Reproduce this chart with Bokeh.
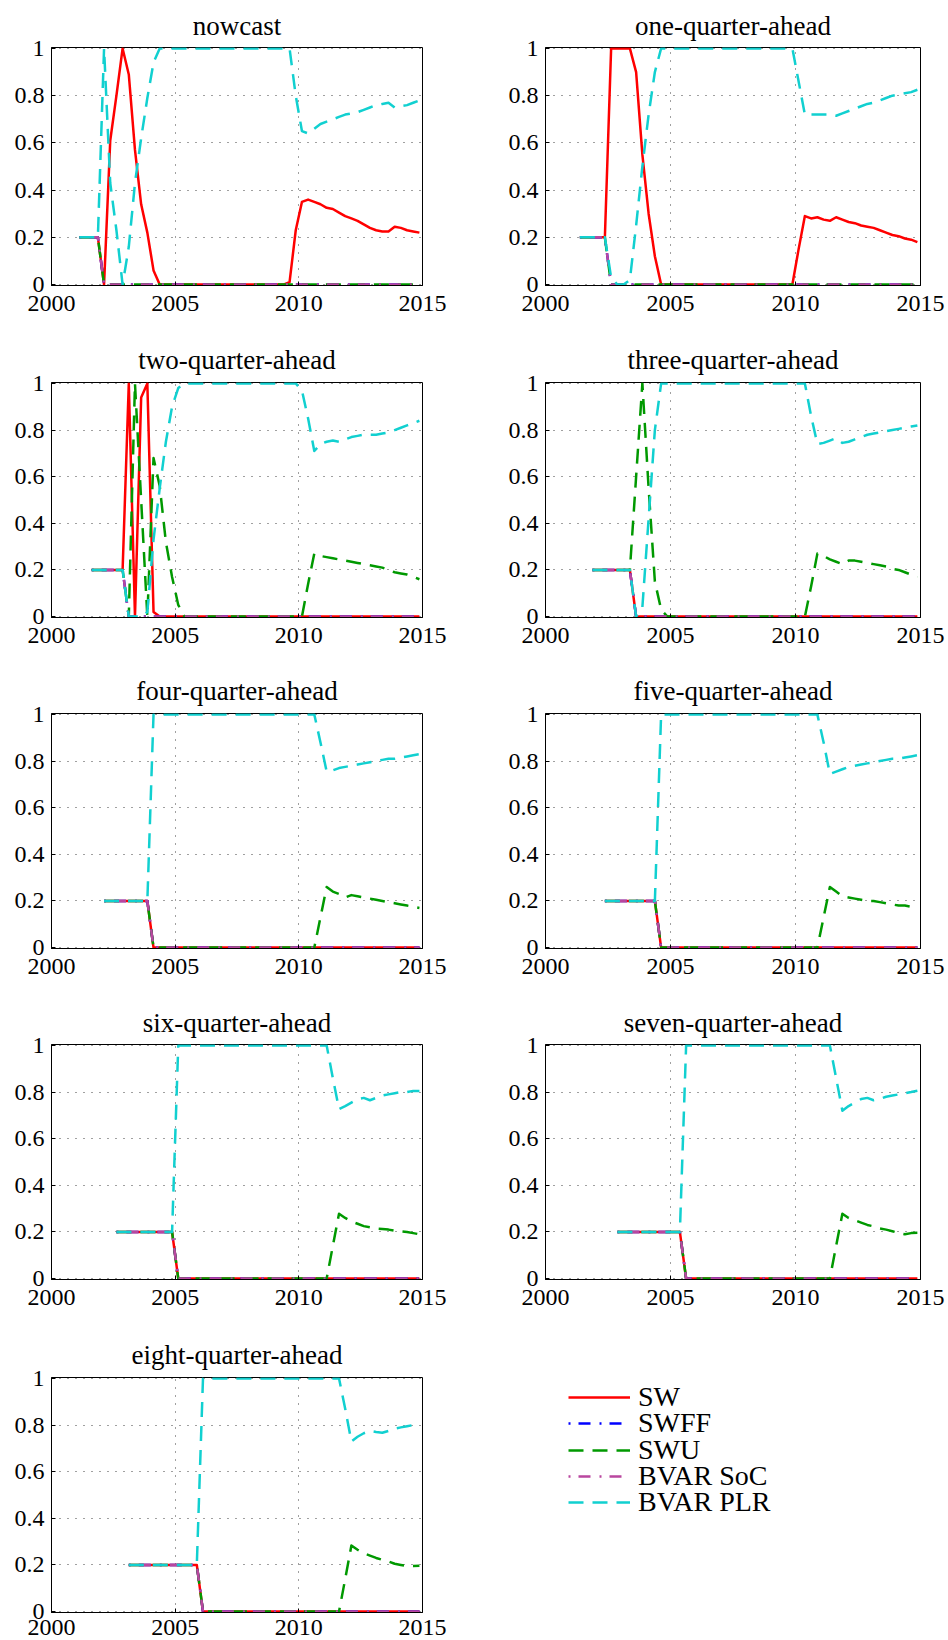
from bokeh.plotting import figure
from bokeh.layouts import gridplot
from bokeh.models import Range1d, FixedTicker, Legend, LegendItem, ColumnDataSource
from bokeh.embed import file_html
from bokeh.resources import INLINE

FONT = "Liberation Serif"

# ---------------- data ----------------
panel_titles = ["nowcast", "one-quarter-ahead", "two-quarter-ahead", "three-quarter-ahead",
                "four-quarter-ahead", "five-quarter-ahead", "six-quarter-ahead",
                "seven-quarter-ahead", "eight-quarter-ahead"]
panel_starts = ["2001Q1", "2001Q2", "2001Q3", "2001Q4", "2002Q1", "2002Q2", "2002Q3", "2002Q4", "2003Q1"]
last_quarter = "2014Q4"
series_names = ["SW", "SWFF", "SWU", "BVAR SoC", "BVAR PLR"]
x_ticks = [2000, 2005, 2010, 2015]
y_ticks = [0, 0.2, 0.4, 0.6, 0.8, 1]
y_tick_labels = ["0", "0.2", "0.4", "0.6", "0.8", "1"]

# nowcast (2001Q1 - 2014Q4, 56 quarters)
nowcast_sw = [0.2, 0.2, 0.2, 0.2, 0, 0.61, 0.8, 1.0, 0.89, 0.57, 0.34, 0.22, 0.06,
              0, 0, 0, 0, 0, 0, 0, 0, 0, 0,
              0, 0, 0, 0, 0, 0, 0, 0, 0, 0,
              0,
              0.01, 0.23, 0.35, 0.36, 0.35, 0.34, 0.325, 0.32, 0.305, 0.29,
              0.28, 0.27, 0.255, 0.24, 0.23, 0.225, 0.225, 0.245, 0.24, 0.23,
              0.225, 0.22]
nowcast_swff = [0.2, 0.2, 0.2, 0.2,
                0, 0, 0, 0, 0, 0, 0, 0, 0, 0,
                0, 0, 0, 0, 0, 0, 0, 0, 0, 0,
                0, 0, 0, 0, 0, 0, 0, 0, 0, 0,
                0, 0, 0, 0, 0, 0, 0, 0, 0, 0,
                0, 0, 0, 0, 0, 0, 0, 0, 0, 0,
                0, 0]
nowcast_swu = [0.2, 0.2, 0.2, 0.2,
               0, 0, 0, 0, 0, 0, 0, 0, 0, 0,
               0, 0, 0, 0, 0, 0, 0, 0, 0, 0,
               0, 0, 0, 0, 0, 0, 0, 0, 0, 0,
               0, 0, 0, 0, 0, 0, 0, 0, 0, 0,
               0, 0, 0, 0, 0, 0, 0, 0, 0, 0,
               0, 0]
nowcast_soc = [0.2, 0.2, 0.2, 0.2,
               0, 0, 0, 0, 0, 0, 0, 0, 0, 0,
               0, 0, 0, 0, 0, 0, 0, 0, 0, 0,
               0, 0, 0, 0, 0, 0, 0, 0, 0, 0,
               0, 0, 0, 0, 0, 0, 0, 0, 0, 0,
               0, 0, 0, 0, 0, 0, 0, 0, 0, 0,
               0, 0]
nowcast_plr = [0.2, 0.2, 0.2, 0.2, 1.0, 0.43, 0.23, 0, 0.16, 0.43, 0.62, 0.79, 0.94,
               1, 1, 1, 1, 1, 1, 1, 1, 1, 1,
               1, 1, 1, 1, 1, 1, 1, 1, 1, 1,
               1, 1,
               0.8, 0.65, 0.64, 0.66, 0.68, 0.69, 0.70, 0.71, 0.72, 0.725,
               0.73, 0.74, 0.75, 0.76, 0.765, 0.77, 0.75, 0.755, 0.76, 0.77,
               0.78]

# one-quarter-ahead (2001Q2 - 2014Q4, 55 quarters)
one_sw = [0.2, 0.2, 0.2, 0.2, 0.2, 1.0, 1.0, 1.0, 1.0, 0.9, 0.55, 0.3, 0.12,
          0, 0, 0, 0, 0, 0, 0, 0, 0, 0,
          0, 0, 0, 0, 0, 0, 0, 0, 0, 0,
          0, 0,
          0.15, 0.29, 0.28, 0.285, 0.275, 0.27, 0.285, 0.275, 0.265, 0.26,
          0.25, 0.245, 0.24, 0.23, 0.22, 0.21, 0.205, 0.195, 0.19, 0.18]
one_swff = [0.2, 0.2, 0.2, 0.2, 0.2,
            0, 0, 0, 0, 0, 0, 0, 0, 0, 0,
            0, 0, 0, 0, 0, 0, 0, 0, 0, 0,
            0, 0, 0, 0, 0, 0, 0, 0, 0, 0,
            0, 0, 0, 0, 0, 0, 0, 0, 0, 0,
            0, 0, 0, 0, 0, 0, 0, 0, 0, 0]
one_swu = [0.2, 0.2, 0.2, 0.2, 0.2,
           0, 0, 0, 0, 0, 0, 0, 0, 0, 0,
           0, 0, 0, 0, 0, 0, 0, 0, 0, 0,
           0, 0, 0, 0, 0, 0, 0, 0, 0, 0,
           0, 0, 0, 0, 0, 0, 0, 0, 0, 0,
           0, 0, 0, 0, 0, 0, 0, 0, 0, 0]
one_soc = [0.2, 0.2, 0.2, 0.2, 0.2,
           0, 0, 0, 0, 0, 0, 0, 0, 0, 0,
           0, 0, 0, 0, 0, 0, 0, 0, 0, 0,
           0, 0, 0, 0, 0, 0, 0, 0, 0, 0,
           0, 0, 0, 0, 0, 0, 0, 0, 0, 0,
           0, 0, 0, 0, 0, 0, 0, 0, 0, 0]
one_plr = [0.2, 0.2, 0.2, 0.2, 0.2, 0.03, 0, 0, 0.02, 0.25, 0.5, 0.72, 0.9,
           1, 1, 1, 1, 1, 1, 1, 1, 1, 1,
           1, 1, 1, 1, 1, 1, 1, 1, 1, 1,
           1, 1,
           0.86, 0.72, 0.72, 0.72, 0.72, 0.72, 0.715, 0.725, 0.735, 0.745,
           0.755, 0.765, 0.77, 0.78, 0.79, 0.80, 0.805, 0.81, 0.815, 0.825]

# two-quarter-ahead (2001Q3 - 2014Q4, 54 quarters)
two_sw = [0.2, 0.2, 0.2, 0.2, 0.2, 0.2, 1.0, 0, 0.94, 1.0, 0.02,
          0, 0, 0, 0, 0, 0, 0, 0, 0, 0,
          0, 0, 0, 0, 0, 0, 0, 0, 0, 0,
          0, 0, 0, 0, 0, 0, 0, 0, 0, 0,
          0, 0, 0, 0, 0, 0, 0, 0, 0, 0,
          0, 0, 0]
two_swff = [0.2, 0.2, 0.2, 0.2, 0.2, 0.2,
            0, 0, 0, 0, 0, 0, 0, 0, 0, 0,
            0, 0, 0, 0, 0, 0, 0, 0, 0, 0,
            0, 0, 0, 0, 0, 0, 0, 0, 0, 0,
            0, 0, 0, 0, 0, 0, 0, 0, 0, 0,
            0, 0, 0, 0, 0, 0, 0, 0]
two_swu = [0.2, 0.2, 0.2, 0.2, 0.2, 0.2, 0, 1.0, 0.5, 0, 0.68, 0.56, 0.32, 0.17, 0.05,
           0, 0, 0, 0, 0, 0, 0, 0, 0, 0,
           0, 0, 0, 0, 0, 0, 0, 0, 0, 0,
           0.14, 0.27, 0.26, 0.255, 0.25, 0.245, 0.24, 0.235, 0.23, 0.225,
           0.22, 0.215, 0.21, 0.2, 0.19, 0.185, 0.18, 0.17, 0.16]
two_soc = [0.2, 0.2, 0.2, 0.2, 0.2, 0.2,
           0, 0, 0, 0, 0, 0, 0, 0, 0, 0,
           0, 0, 0, 0, 0, 0, 0, 0, 0, 0,
           0, 0, 0, 0, 0, 0, 0, 0, 0, 0,
           0, 0, 0, 0, 0, 0, 0, 0, 0, 0,
           0, 0, 0, 0, 0, 0, 0, 0]
two_plr = [0.2, 0.2, 0.2, 0.2, 0.2, 0.2, 0, 0, 0, 0.02, 0.33, 0.55, 0.75, 0.9, 0.98, 1.0,
           1, 1, 1, 1, 1, 1, 1, 1, 1, 1,
           1, 1, 1, 1, 1, 1, 1, 1,
           0.97, 0.85, 0.71, 0.74, 0.75, 0.755, 0.75, 0.76, 0.77, 0.775,
           0.78, 0.78, 0.78, 0.785, 0.79, 0.80, 0.81, 0.82, 0.83, 0.84]

# three-quarter-ahead (2001Q4 - 2014Q4, 53 quarters)
three_sw = [0.2, 0.2, 0.2, 0.2, 0.2, 0.2, 0.2,
            0, 0, 0, 0, 0, 0, 0, 0, 0, 0,
            0, 0, 0, 0, 0, 0, 0, 0, 0, 0,
            0, 0, 0, 0, 0, 0, 0, 0, 0, 0,
            0, 0, 0, 0, 0, 0, 0, 0, 0, 0,
            0, 0, 0, 0, 0, 0]
three_swff = [0.2, 0.2, 0.2, 0.2, 0.2, 0.2, 0.2,
              0, 0, 0, 0, 0, 0, 0, 0, 0, 0,
              0, 0, 0, 0, 0, 0, 0, 0, 0, 0,
              0, 0, 0, 0, 0, 0, 0, 0, 0, 0,
              0, 0, 0, 0, 0, 0, 0, 0, 0, 0,
              0, 0, 0, 0, 0, 0]
three_swu = [0.2, 0.2, 0.2, 0.2, 0.2, 0.2, 0.2, 0.6, 1.0, 0.55, 0.15, 0.03,
             0, 0, 0, 0, 0, 0, 0, 0, 0, 0,
             0, 0, 0, 0, 0, 0, 0, 0, 0, 0,
             0, 0, 0,
             0.13, 0.27, 0.26, 0.245, 0.235, 0.225, 0.24, 0.24, 0.235, 0.23,
             0.225, 0.22, 0.215, 0.205, 0.2, 0.19, 0.18, 0.17]
three_soc = [0.2, 0.2, 0.2, 0.2, 0.2, 0.2, 0.2,
             0, 0, 0, 0, 0, 0, 0, 0, 0, 0,
             0, 0, 0, 0, 0, 0, 0, 0, 0, 0,
             0, 0, 0, 0, 0, 0, 0, 0, 0, 0,
             0, 0, 0, 0, 0, 0, 0, 0, 0, 0,
             0, 0, 0, 0, 0, 0]
three_plr = [0.2, 0.2, 0.2, 0.2, 0.2, 0.2, 0.2, 0, 0.04, 0.42, 0.8,
             1, 1, 1, 1, 1, 1, 1, 1, 1, 1,
             1, 1, 1, 1, 1, 1, 1, 1, 1, 1,
             1, 1, 1, 1,
             0.86, 0.74, 0.745, 0.755, 0.765, 0.745, 0.75, 0.76, 0.77, 0.78,
             0.785, 0.79, 0.795, 0.80, 0.805, 0.81, 0.815, 0.82]

# four-quarter-ahead (2002Q1 - 2014Q4, 52 quarters)
four_sw = [0.2, 0.2, 0.2, 0.2, 0.2, 0.2, 0.2, 0.2,
           0, 0, 0, 0, 0, 0, 0, 0, 0, 0,
           0, 0, 0, 0, 0, 0, 0, 0, 0, 0,
           0, 0, 0, 0, 0, 0, 0, 0, 0, 0,
           0, 0, 0, 0, 0, 0, 0, 0, 0, 0,
           0, 0, 0, 0]
four_swff = [0.2, 0.2, 0.2, 0.2, 0.2, 0.2, 0.2, 0.2,
             0, 0, 0, 0, 0, 0, 0, 0, 0, 0,
             0, 0, 0, 0, 0, 0, 0, 0, 0, 0,
             0, 0, 0, 0, 0, 0, 0, 0, 0, 0,
             0, 0, 0, 0, 0, 0, 0, 0, 0, 0,
             0, 0, 0, 0]
four_swu = [0.2, 0.2, 0.2, 0.2, 0.2, 0.2, 0.2, 0.2,
            0, 0, 0, 0, 0, 0, 0, 0, 0, 0,
            0, 0, 0, 0, 0, 0, 0, 0, 0, 0,
            0, 0, 0, 0, 0, 0, 0,
            0.13, 0.26, 0.24, 0.23, 0.215, 0.225, 0.22, 0.215, 0.21, 0.205,
            0.2, 0.195, 0.19, 0.185, 0.18, 0.175, 0.17]
four_soc = [0.2, 0.2, 0.2, 0.2, 0.2, 0.2, 0.2, 0.2,
            0, 0, 0, 0, 0, 0, 0, 0, 0, 0,
            0, 0, 0, 0, 0, 0, 0, 0, 0, 0,
            0, 0, 0, 0, 0, 0, 0, 0, 0, 0,
            0, 0, 0, 0, 0, 0, 0, 0, 0, 0,
            0, 0, 0, 0]
four_plr = [0.2, 0.2, 0.2, 0.2, 0.2, 0.2, 0.2, 0.2,
            1, 1, 1, 1, 1, 1, 1, 1, 1, 1,
            1, 1, 1, 1, 1, 1, 1, 1, 1, 1,
            1, 1, 1, 1, 1, 1, 1,
            0.88, 0.755, 0.76, 0.77, 0.775, 0.78, 0.785, 0.79, 0.795, 0.80,
            0.805, 0.81, 0.81, 0.815, 0.82, 0.825, 0.83]

# five-quarter-ahead (2002Q2 - 2014Q4, 51 quarters)
five_sw = [0.2, 0.2, 0.2, 0.2, 0.2, 0.2, 0.2, 0.2, 0.2,
           0, 0, 0, 0, 0, 0, 0, 0, 0, 0,
           0, 0, 0, 0, 0, 0, 0, 0, 0, 0,
           0, 0, 0, 0, 0, 0, 0, 0, 0, 0,
           0, 0, 0, 0, 0, 0, 0, 0, 0, 0,
           0, 0]
five_swff = [0.2, 0.2, 0.2, 0.2, 0.2, 0.2, 0.2, 0.2, 0.2,
             0, 0, 0, 0, 0, 0, 0, 0, 0, 0,
             0, 0, 0, 0, 0, 0, 0, 0, 0, 0,
             0, 0, 0, 0, 0, 0, 0, 0, 0, 0,
             0, 0, 0, 0, 0, 0, 0, 0, 0, 0,
             0, 0]
five_swu = [0.2, 0.2, 0.2, 0.2, 0.2, 0.2, 0.2, 0.2, 0.2,
            0, 0, 0, 0, 0, 0, 0, 0, 0, 0,
            0, 0, 0, 0, 0, 0, 0, 0, 0, 0,
            0, 0, 0, 0, 0, 0,
            0.13, 0.26, 0.24, 0.22, 0.215, 0.21, 0.205, 0.2, 0.2, 0.195,
            0.19, 0.185, 0.18, 0.18, 0.175, 0.175]
five_soc = [0.2, 0.2, 0.2, 0.2, 0.2, 0.2, 0.2, 0.2, 0.2,
            0, 0, 0, 0, 0, 0, 0, 0, 0, 0,
            0, 0, 0, 0, 0, 0, 0, 0, 0, 0,
            0, 0, 0, 0, 0, 0, 0, 0, 0, 0,
            0, 0, 0, 0, 0, 0, 0, 0, 0, 0,
            0, 0]
five_plr = [0.2, 0.2, 0.2, 0.2, 0.2, 0.2, 0.2, 0.2, 0.2,
            1, 1, 1, 1, 1, 1, 1, 1, 1, 1,
            1, 1, 1, 1, 1, 1, 1, 1, 1, 1,
            1, 1, 1, 1, 1, 1,
            0.88, 0.745, 0.755, 0.765, 0.775, 0.78, 0.785, 0.79, 0.795, 0.80,
            0.805, 0.81, 0.81, 0.815, 0.82, 0.825]

# six-quarter-ahead (2002Q3 - 2014Q4, 50 quarters)
six_sw = [0.2, 0.2, 0.2, 0.2, 0.2, 0.2, 0.2, 0.2, 0.2, 0.2,
          0, 0, 0, 0, 0, 0, 0, 0, 0, 0,
          0, 0, 0, 0, 0, 0, 0, 0, 0, 0,
          0, 0, 0, 0, 0, 0, 0, 0, 0, 0,
          0, 0, 0, 0, 0, 0, 0, 0, 0, 0]
six_swff = [0.2, 0.2, 0.2, 0.2, 0.2, 0.2, 0.2, 0.2, 0.2, 0.2,
            0, 0, 0, 0, 0, 0, 0, 0, 0, 0,
            0, 0, 0, 0, 0, 0, 0, 0, 0, 0,
            0, 0, 0, 0, 0, 0, 0, 0, 0, 0,
            0, 0, 0, 0, 0, 0, 0, 0, 0, 0]
six_swu = [0.2, 0.2, 0.2, 0.2, 0.2, 0.2, 0.2, 0.2, 0.2, 0.2,
           0, 0, 0, 0, 0, 0, 0, 0, 0, 0,
           0, 0, 0, 0, 0, 0, 0, 0, 0, 0,
           0, 0, 0, 0, 0,
           0.14, 0.278, 0.26, 0.245, 0.235, 0.225, 0.22, 0.215, 0.213, 0.21,
           0.205, 0.203, 0.2, 0.195, 0.19]
six_soc = [0.2, 0.2, 0.2, 0.2, 0.2, 0.2, 0.2, 0.2, 0.2, 0.2,
           0, 0, 0, 0, 0, 0, 0, 0, 0, 0,
           0, 0, 0, 0, 0, 0, 0, 0, 0, 0,
           0, 0, 0, 0, 0, 0, 0, 0, 0, 0,
           0, 0, 0, 0, 0, 0, 0, 0, 0, 0]
six_plr = [0.2, 0.2, 0.2, 0.2, 0.2, 0.2, 0.2, 0.2, 0.2, 0.2,
           1, 1, 1, 1, 1, 1, 1, 1, 1, 1,
           1, 1, 1, 1, 1, 1, 1, 1, 1, 1,
           1, 1, 1, 1, 1,
           0.86, 0.727, 0.74, 0.755, 0.77, 0.775, 0.765, 0.775, 0.785, 0.79,
           0.795, 0.80, 0.80, 0.805, 0.805]

# seven-quarter-ahead (2002Q4 - 2014Q4, 49 quarters)
seven_sw = [0.2, 0.2, 0.2, 0.2, 0.2, 0.2, 0.2, 0.2, 0.2, 0.2, 0.2,
            0, 0, 0, 0, 0, 0, 0, 0, 0, 0,
            0, 0, 0, 0, 0, 0, 0, 0, 0, 0,
            0, 0, 0, 0, 0, 0, 0, 0, 0, 0,
            0, 0, 0, 0, 0, 0, 0, 0]
seven_swff = [0.2, 0.2, 0.2, 0.2, 0.2, 0.2, 0.2, 0.2, 0.2, 0.2, 0.2,
              0, 0, 0, 0, 0, 0, 0, 0, 0, 0,
              0, 0, 0, 0, 0, 0, 0, 0, 0, 0,
              0, 0, 0, 0, 0, 0, 0, 0, 0, 0,
              0, 0, 0, 0, 0, 0, 0, 0]
seven_swu = [0.2, 0.2, 0.2, 0.2, 0.2, 0.2, 0.2, 0.2, 0.2, 0.2, 0.2,
             0, 0, 0, 0, 0, 0, 0, 0, 0, 0,
             0, 0, 0, 0, 0, 0, 0, 0, 0, 0,
             0, 0, 0, 0,
             0.14, 0.278, 0.26, 0.25, 0.24, 0.23, 0.224, 0.215, 0.21, 0.203,
             0.195, 0.19, 0.195, 0.196]
seven_soc = [0.2, 0.2, 0.2, 0.2, 0.2, 0.2, 0.2, 0.2, 0.2, 0.2, 0.2,
             0, 0, 0, 0, 0, 0, 0, 0, 0, 0,
             0, 0, 0, 0, 0, 0, 0, 0, 0, 0,
             0, 0, 0, 0, 0, 0, 0, 0, 0, 0,
             0, 0, 0, 0, 0, 0, 0, 0]
seven_plr = [0.2, 0.2, 0.2, 0.2, 0.2, 0.2, 0.2, 0.2, 0.2, 0.2, 0.2,
             1, 1, 1, 1, 1, 1, 1, 1, 1, 1,
             1, 1, 1, 1, 1, 1, 1, 1, 1, 1,
             1, 1, 1, 1,
             0.86, 0.72, 0.74, 0.755, 0.77, 0.775, 0.765, 0.77, 0.78, 0.785,
             0.79, 0.795, 0.80, 0.806]

# eight-quarter-ahead (2003Q1 - 2014Q4, 48 quarters)
eight_sw = [0.2, 0.2, 0.2, 0.2, 0.2, 0.2, 0.2, 0.2, 0.2, 0.2, 0.2, 0.2,
            0, 0, 0, 0, 0, 0, 0, 0, 0, 0,
            0, 0, 0, 0, 0, 0, 0, 0, 0, 0,
            0, 0, 0, 0, 0, 0, 0, 0, 0, 0,
            0, 0, 0, 0, 0, 0]
eight_swff = [0.2, 0.2, 0.2, 0.2, 0.2, 0.2, 0.2, 0.2, 0.2, 0.2, 0.2, 0.2,
              0, 0, 0, 0, 0, 0, 0, 0, 0, 0,
              0, 0, 0, 0, 0, 0, 0, 0, 0, 0,
              0, 0, 0, 0, 0, 0, 0, 0, 0, 0,
              0, 0, 0, 0, 0, 0]
eight_swu = [0.2, 0.2, 0.2, 0.2, 0.2, 0.2, 0.2, 0.2, 0.2, 0.2, 0.2, 0.2,
             0, 0, 0, 0, 0, 0, 0, 0, 0, 0,
             0, 0, 0, 0, 0, 0, 0, 0, 0, 0,
             0, 0, 0,
             0.14, 0.283, 0.265, 0.25, 0.24, 0.23, 0.222, 0.215, 0.205, 0.2,
             0.195, 0.195, 0.197]
eight_soc = [0.2, 0.2, 0.2, 0.2, 0.2, 0.2, 0.2, 0.2, 0.2, 0.2, 0.2, 0.2,
             0, 0, 0, 0, 0, 0, 0, 0, 0, 0,
             0, 0, 0, 0, 0, 0, 0, 0, 0, 0,
             0, 0, 0, 0, 0, 0, 0, 0, 0, 0,
             0, 0, 0, 0, 0, 0]
eight_plr = [0.2, 0.2, 0.2, 0.2, 0.2, 0.2, 0.2, 0.2, 0.2, 0.2, 0.2, 0.2,
             1, 1, 1, 1, 1, 1, 1, 1, 1, 1,
             1, 1, 1, 1, 1, 1, 1, 1, 1, 1,
             1, 1, 1,
             0.87, 0.73, 0.75, 0.765, 0.775, 0.77, 0.767, 0.775, 0.785, 0.79,
             0.795, 0.80, 0.80]

panel_data = [
    [nowcast_sw, nowcast_swff, nowcast_swu, nowcast_soc, nowcast_plr],
    [one_sw, one_swff, one_swu, one_soc, one_plr],
    [two_sw, two_swff, two_swu, two_soc, two_plr],
    [three_sw, three_swff, three_swu, three_soc, three_plr],
    [four_sw, four_swff, four_swu, four_soc, four_plr],
    [five_sw, five_swff, five_swu, five_soc, five_plr],
    [six_sw, six_swff, six_swu, six_soc, six_plr],
    [seven_sw, seven_swff, seven_swu, seven_soc, seven_plr],
    [eight_sw, eight_swff, eight_swu, eight_soc, eight_plr],
]

# ---------------- styling ----------------
series_colors = ["#ff0000", "#0000ff", "#009900", "#b9479f", "#11d0d0"]
series_dashes = ["solid", "2 8 12 9", "15 9", "2 8 12 9", "15 9"]
LINE_W = 2.5


def quarter_dates(start, end):
    y0, q0 = int(start[:4]), int(start[5])
    y1, q1 = int(end[:4]), int(end[5])
    n = (y1 - y0) * 4 + (q1 - q0) + 1
    first = y0 + (q0 - 0.5) / 4.0
    return [first + 0.25 * i for i in range(n)]


# column geometry: (border_left, frame_width, border_right)
col_geom = [(51, 371, 52), (71, 375, 28)]
# row geometry: (border_top, frame_height, border_bottom, title standoff, x-label standoff)
row_geom = [(47, 238, 47, 13, 10), (50, 235, 47, 16, 10), (49, 235, 48, 15, 10),
            (48, 235, 49, 14, 10), (49, 235, 28, 15, 7)]


def style_frame(p):
    p.background_fill_color = "white"
    p.border_fill_color = "white"
    p.outline_line_color = "black"
    p.outline_line_width = 1
    p.outline_line_alpha = 1


def make_panel(idx):
    r, c = divmod(idx, 2)
    bl, fw, br = col_geom[c]
    bt, fh, bb, t_off, x_off = row_geom[r]
    p = figure(width=bl + fw + br, height=bt + fh + bb,
               min_border_left=bl, min_border_right=br,
               min_border_top=bt, min_border_bottom=bb,
               x_range=Range1d(2000, 2015), y_range=Range1d(-0.004, 1.004),
               toolbar_location=None, output_backend="svg",
               title=panel_titles[idx])
    p.title.text_font = FONT
    p.title.text_font_size = "27px"
    p.title.text_font_style = "normal"
    p.title.text_color = "black"
    p.title.align = "center"
    p.title.standoff = t_off
    style_frame(p)

    p.xaxis.ticker = FixedTicker(ticks=x_ticks)
    p.yaxis.ticker = FixedTicker(ticks=y_ticks)
    p.yaxis.major_label_overrides = {t: lab for t, lab in zip(y_ticks, y_tick_labels)}
    p.axis.major_label_text_font = FONT
    p.axis.major_label_text_font_size = "24px"
    p.axis.major_label_text_color = "black"
    p.axis.axis_line_color = "black"
    p.axis.major_tick_line_color = "black"
    p.axis.major_tick_in = 4
    p.axis.major_tick_out = 0
    p.axis.minor_tick_line_color = None
    p.yaxis.major_label_standoff = 7
    p.xaxis.major_label_standoff = x_off

    p.grid.grid_line_color = "black"
    p.grid.grid_line_alpha = 0.75
    p.grid.grid_line_dash = "1 7"
    p.grid.grid_line_width = 1

    xs = quarter_dates(panel_starts[idx], last_quarter)
    for name, vals, col, dash in zip(series_names, panel_data[idx], series_colors, series_dashes):
        assert len(vals) == len(xs), (panel_titles[idx], name, len(vals), len(xs))
        src = ColumnDataSource(data=dict(x=xs, y=vals))
        p.line("x", "y", source=src, line_color=col, line_width=LINE_W,
               line_dash=dash, line_join="round")
    return p


panels = [make_panel(i) for i in range(9)]

# legend cell (its frame is aligned by the grid with the right-hand column)
bl, fw, br = col_geom[1]
bt, fh, bb, _, _ = row_geom[4]
lp = figure(width=bl + fw + br, height=bt + fh + bb,
            min_border_left=bl, min_border_right=br, min_border_top=bt, min_border_bottom=bb,
            x_range=Range1d(2000, 2015), y_range=Range1d(0, 1),
            toolbar_location=None, output_backend="svg",
            x_axis_location=None, y_axis_location=None)
lp.outline_line_color = None
lp.grid.visible = False
lp.background_fill_color = "white"
lp.border_fill_color = "white"
legend_xs = quarter_dates(panel_starts[8], last_quarter)

LEGEND_X = 23          # glyph start, px right of the frame's left edge
LEGEND_TOP_ROW = 199   # bottom of the first legend row, px above the frame's bottom edge
LEGEND_PITCH = 26.3    # row pitch, px
for k, (name, vals, col, dash) in enumerate(zip(series_names, panel_data[8], series_colors, series_dashes)):
    rr = lp.line(x=legend_xs, y=vals, line_color=col, line_width=LINE_W, line_dash=dash)
    rr.visible = False
    lg = Legend(items=[LegendItem(label=name, renderers=[rr])],
                location=(LEGEND_X, int(round(LEGEND_TOP_ROW - k * LEGEND_PITCH))))
    lg.glyph_width = 62
    lg.glyph_height = 20
    lg.label_standoff = 8
    lg.label_text_font = FONT
    lg.label_text_font_size = "28px"
    lg.label_text_color = "black"
    lg.padding = 0
    lg.margin = 0
    lg.border_line_alpha = 0
    lg.background_fill_alpha = 0
    lg.inactive_fill_alpha = 0
    lg.click_policy = "none"
    lp.add_layout(lg)

grid = gridplot([[panels[0], panels[1]], [panels[2], panels[3]], [panels[4], panels[5]],
                 [panels[6], panels[7]], [panels[8], lp]], toolbar_location=None)

open("out.html", "w").write(file_html(grid, INLINE))
